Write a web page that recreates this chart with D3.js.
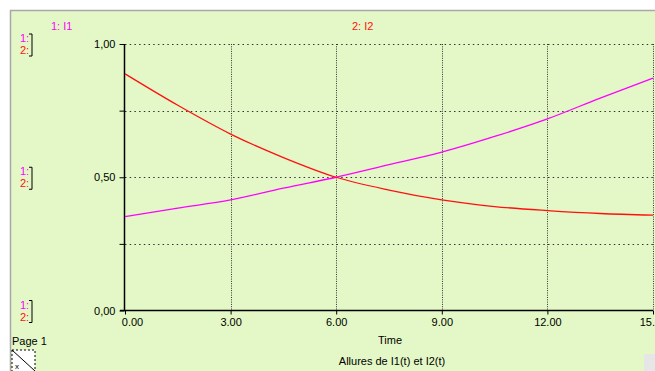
<!DOCTYPE html>
<html>
<head>
<meta charset="utf-8">
<script src="https://cdn.jsdelivr.net/npm/d3@7"></script>
<style>
  body { margin: 0; background: #fff; }
  svg { display: block; font-family: "Liberation Sans", Arial, sans-serif; }
</style>
</head>
<body>
<div class="chart"></div>
<script>
// values
var times = [0, 1.5, 3, 4.5, 6, 7.5, 9, 10.5, 12, 13.5, 15];
var i1 = [0.352, 0.384, 0.415, 0.459, 0.50, 0.547, 0.594, 0.653, 0.719, 0.797, 0.872];
var i2 = [0.888, 0.770, 0.662, 0.574, 0.50, 0.452, 0.415, 0.390, 0.375, 0.364, 0.358];
var xTicks = [0, 3, 6, 9, 12, 15];
var yTicks = [0, 0.25, 0.5, 0.75, 1];
var yLabels = ["0,00", "", "0,50", "", "1,00"];
var seriesNames = ["1: I1", "2: I2"];
var colors = ["#ff00ff", "#ff1010"];

const width = 655;
const height = 371;

const svg = d3.select('.chart')
    .append('svg')
    .attr('width', width)
    .attr('height', height);

// panel background
svg.append('rect')
    .attr('x', 11).attr('y', 11)
    .attr('width', width - 11).attr('height', height - 11)
    .attr('fill', '#e3f8c6');
svg.append('line')
    .attr('x1', 10.5).attr('x2', 10.5).attr('y1', 10).attr('y2', height)
    .attr('stroke', '#a8a8a8').attr('stroke-width', 1.5);
svg.append('line')
    .attr('x1', 10).attr('x2', width).attr('y1', 10.5).attr('y2', 10.5)
    .attr('stroke', '#a8a8a8').attr('stroke-width', 1.5);

const x = d3.scaleLinear().domain([0, 15]).range([125, 653]);
const y = d3.scaleLinear().domain([0, 1]).range([310.5, 44]);

// grid
svg.append('g')
    .selectAll('hgrid')
    .data(yTicks.filter(d => d > 0))
    .enter()
    .append('line')
        .attr('x1', x(0)).attr('x2', x(15))
        .attr('y1', d => Math.round(y(d)) + 0.5)
        .attr('y2', d => Math.round(y(d)) + 0.5)
        .attr('stroke', '#333')
        .attr('stroke-dasharray', '1.5,3.2');
svg.append('g')
    .selectAll('vgrid')
    .data(xTicks.filter(d => d > 0))
    .enter()
    .append('line')
        .attr('x1', d => Math.round(x(d)) + 0.5)
        .attr('x2', d => Math.round(x(d)) + 0.5)
        .attr('y1', y(1)).attr('y2', y(0))
        .attr('stroke', '#333')
        .attr('stroke-dasharray', '1,1.3');

// axes
const yAxis = d3.axisLeft(y)
    .tickValues(yTicks)
    .tickSize(5)
    .tickFormat((d, i) => yLabels[i]);
const gy = svg.append('g')
    .attr('transform', 'translate(' + (x(0) - 0.5) + ',0)')
    .call(yAxis);
gy.select('.domain').attr('stroke', '#000').attr('stroke-width', 1.5).attr('d', 'M0,' + y(1) + 'V' + y(0));
gy.selectAll('text').attr('font-size', '11px').attr('fill', '#000').attr('dx', '-1');

const xAxis = d3.axisBottom(x)
    .tickValues(xTicks)
    .tickSize(4)
    .tickFormat(d3.format('.2f'));
const gx = svg.append('g')
    .attr('transform', 'translate(0,' + y(0) + ')')
    .call(xAxis);
gx.select('.domain').attr('stroke', '#000').attr('stroke-width', 1.5).attr('d', 'M' + (x(0) - 5) + ',0H' + x(15));
gx.selectAll('text').attr('font-size', '11px').attr('fill', '#000').attr('dy', '0.75em')
    .attr('dx', d => d === 0 ? 7 : 0);

// curves
const line = d3.line()
    .x((d, i) => x(times[i]))
    .y(d => y(d))
    .curve(d3.curveMonotoneX);
[i1, i2].forEach((s, k) => {
    svg.append('path')
        .datum(s)
        .attr('d', line)
        .attr('fill', 'none')
        .attr('stroke', colors[k])
        .attr('stroke-width', 1.3);
});

// series headers
svg.append('text').attr('x', 51).attr('y', 30).text(seriesNames[0])
    .attr('font-size', '11px').attr('fill', colors[0]);
svg.append('text').attr('x', 352).attr('y', 30).text(seriesNames[1])
    .attr('font-size', '11px').attr('fill', colors[1]);

// scale keys on the left
[y(1), y(0.5), y(0)].forEach(yy => {
    const g = svg.append('g').attr('transform', 'translate(20,' + (yy - 2) + ')');
    g.append('text').attr('x', 0).attr('y', 0).text('1:')
        .attr('font-size', '11px').attr('fill', colors[0]);
    g.append('text').attr('x', 0).attr('y', 12).text('2:')
        .attr('font-size', '11px').attr('fill', colors[1]);
    g.append('path').attr('d', 'M9,-8H12V14H9')
        .attr('fill', 'none').attr('stroke', '#000').attr('stroke-width', 1);
});

// titles
svg.append('text').attr('x', 390).attr('y', 344).text('Time')
    .attr('font-size', '11px').attr('text-anchor', 'middle');
svg.append('text').attr('x', 392).attr('y', 365).text('Allures de I1(t) et I2(t)')
    .attr('font-size', '11px').attr('text-anchor', 'middle');
svg.append('text').attr('x', 12).attr('y', 345).text('Page 1')
    .attr('font-size', '11px').attr('fill', '#000');

// page icon
svg.append('rect').attr('x', 12).attr('y', 350).attr('width', 23).attr('height', 24)
    .attr('fill', '#fff').attr('stroke', '#000').attr('stroke-dasharray', '2,2');
svg.append('line').attr('x1', 12).attr('y1', 350).attr('x2', 35).attr('y2', 371)
    .attr('stroke', '#000');
svg.append('text').attr('x', 15).attr('y', 369).text('x')
    .attr('font-size', '8px').attr('fill', '#000');
svg.append('rect').attr('x', 644).attr('y', 354).attr('width', 12).attr('height', 17)
    .attr('fill', '#e6e6e6');
</script>
</body>
</html>
